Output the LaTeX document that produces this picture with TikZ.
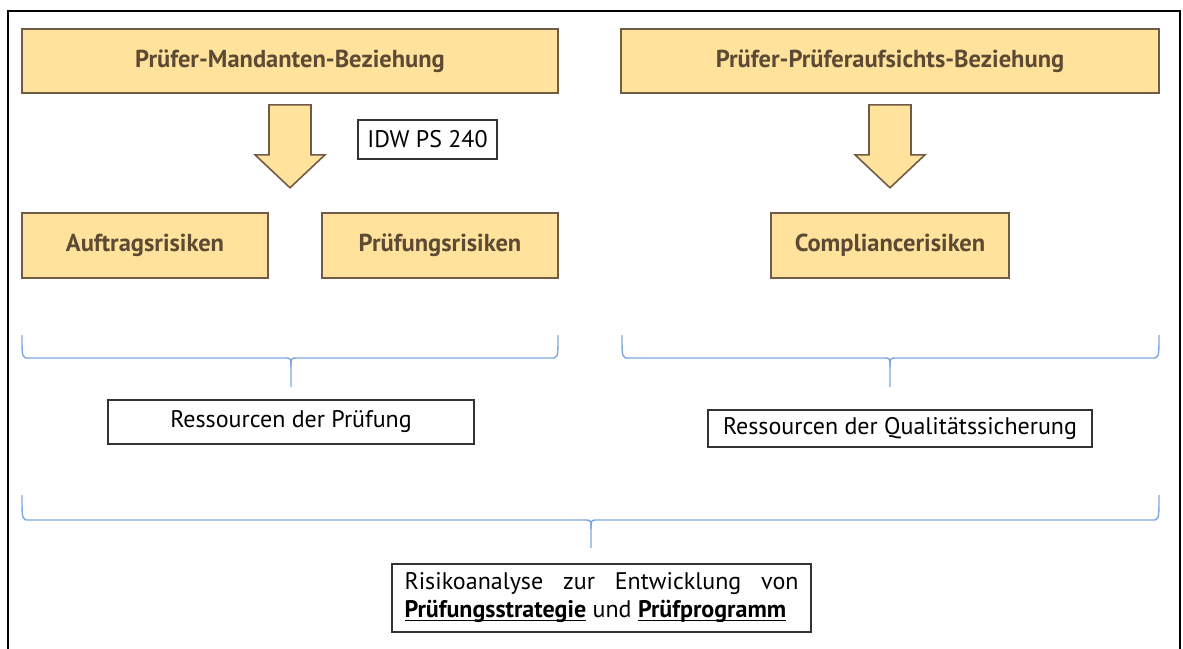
\documentclass[tikz,border=0pt]{standalone}
\usepackage{fontspec}
\setmainfont{PT Sans}
\usetikzlibrary{calc}
\definecolor{boxfill}{RGB}{255,226,155}
\definecolor{boxline}{RGB}{112,92,70}
\definecolor{boxtext}{RGB}{92,74,52}
\definecolor{bracecol}{RGB}{125,168,222}
% underline drawn just below the baseline
\newcommand\lowline[1]{\setbox0\hbox{#1}\rlap{\rule[-3.5pt]{\wd0}{1.6pt}}\box0\relax}
% downward block arrow hanging below a node: #1 node, #2 shaft top, #3 head base, #4 tip (offsets)
\newcommand\blockdown[4]{%
  \draw[blockarrow] ($(#1.south)+(-21,#2)$) -- ($(#1.south)+(21,#2)$) -- ($(#1.south)+(21,#3)$)
    -- ($(#1.south)+(35,#3)$) -- ($(#1.south)+(0,#4)$) -- ($(#1.south)+(-35,#3)$)
    -- ($(#1.south)+(-21,#3)$) -- cycle;}
% curly brace opening downwards: left, right, middle, ends, flat part, tip
\newcommand\curlybrace[6]{%
  \draw[bracket] (#1,#4) .. controls (#1,#5) and (#1,#5) .. (#1+7,#5) -- (#3-7,#5)
    .. controls (#3,#5) and (#3,#5) .. (#3,#5+9) -- (#3,#6);
  \draw[bracket] (#3,#5+9) .. controls (#3,#5) and (#3,#5) .. (#3+7,#5) -- (#2-7,#5)
    .. controls (#2,#5) and (#2,#5) .. (#2,#4);}
\begin{document}
\begin{tikzpicture}[x=1pt,y=-1pt,
  riskbox/.style={draw=boxline, fill=boxfill, line width=1.6pt, text=boxtext,
    font=\fontsize{24.5}{28}\selectfont\bfseries, inner sep=0pt},
  plainbox/.style={draw=black!80, fill=white, line width=1.2pt,
    font=\fontsize{24}{28}\selectfont, inner sep=0pt},
  blockarrow/.style={draw=boxline, fill=boxfill, line width=1.6pt, line join=miter},
  bracket/.style={draw=bracecol, line width=1.4pt}
]
\useasboundingbox (0,0) rectangle (1183,648);
% outer frame, open at the bottom
\begin{scope}
  \clip (0,0) rectangle (1183,648);
  \draw[line width=2pt] (8,700) -- (8,11) -- (1180,11) -- (1180,700);
\end{scope}

% relationships
\node[riskbox, minimum width=536, minimum height=64] (pmb) at (290,61) {Prüfer-Mandanten-Beziehung};
\node[riskbox, minimum width=538, minimum height=64] (ppb) at (890,61) {Prüfer-Prüferaufsichts-Beziehung};

% arrows down to the risks
\blockdown{pmb}{11}{61}{94}
\blockdown{ppb}{11}{61}{94}
\node[plainbox, minimum width=139, minimum height=39] (idw) at (427.5,139.5) {IDW PS 240};

% risks
\node[riskbox, minimum width=246, minimum height=65] (auf) at (145,245.5) {Auftragsrisiken};
\node[riskbox, minimum width=236, minimum height=65] (pru) at (440,245.5) {Prüfungsrisiken};
\node[riskbox, minimum width=238, minimum height=65] (comp) at (890,245.5) {Compliancerisiken};

% resources
\curlybrace{22}{558}{291}{335}{358}{387}
\curlybrace{622}{1159}{890}{335}{358}{387}
\node[plainbox, minimum width=366, minimum height=44] (resp) at (291,422) {Ressourcen der Prüfung};
\node[plainbox, minimum width=384, minimum height=37] (resq) at (900,428.5) {Ressourcen der Qualitätssicherung};

% risk analysis
\curlybrace{22}{1159}{591}{495}{520}{548}
\node[plainbox, minimum width=419, minimum height=68, align=left, font=\fontsize{24}{28}\selectfont] (ana) at (601.5,598)
  {\makebox[394pt][s]{Risikoanalyse zur Entwicklung von}\\
   \lowline{\textbf{Prüfungsstrategie}} und \lowline{\textbf{Prüfprogramm}}};
\end{tikzpicture}
\end{document}
